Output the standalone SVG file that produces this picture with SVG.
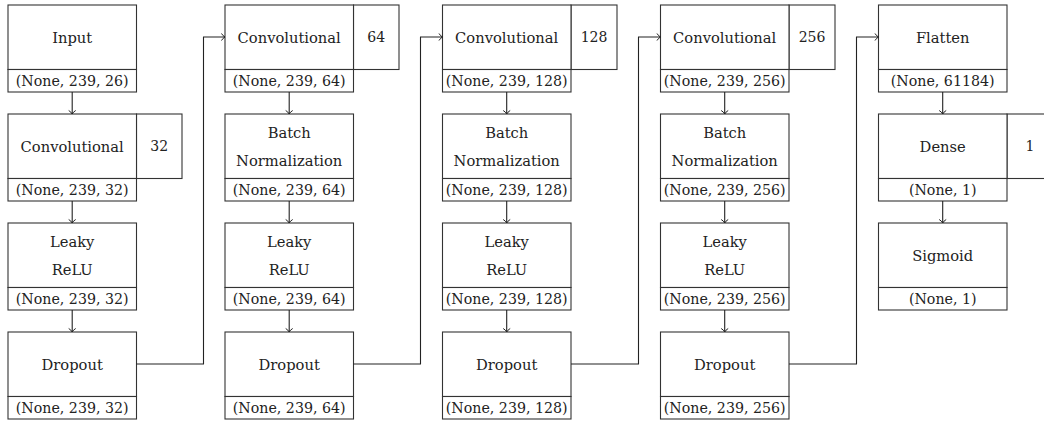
<svg xmlns="http://www.w3.org/2000/svg" width="1044" height="423" viewBox="0 0 1044 423">
  <style>
    .box { fill: #fff; stroke: #333; stroke-width: 1.1; }
    text { font-family: 'DejaVu Serif', 'Liberation Serif', serif; fill: #222; text-anchor: middle; dominant-baseline: central; }
    .lbl { font-size: 14.7px; }
    .shp { font-size: 14.2px; }
    .num { font-size: 14px; }
    .wire { fill: none; stroke: #222; stroke-width: 1.1; marker-end: url(#tip); }
  </style>
  <defs>
    <marker id="tip" markerUnits="userSpaceOnUse" markerWidth="10" markerHeight="10" refX="9" refY="5" orient="auto">
      <path d="M5.5 1.5 Q7 4 9 5 Q7 6 5.5 8.5" fill="none" stroke="#222" stroke-width="1"/>
    </marker>
  </defs>
  <rect width="1044" height="423" fill="#fff"/>

  <!-- column 1 -->
  <g id="input">
    <rect class="box" x="8" y="5" width="128.5" height="64.5"/>
    <rect class="box" x="8" y="69.5" width="128.5" height="22.5"/>
    <text class="lbl" x="72.2" y="37">Input</text>
    <text class="shp" x="72.2" y="80.5">(None, 239, 26)</text>
  </g>
  <g id="conv1">
    <rect class="box" x="136.5" y="114" width="45.5" height="64.5"/>
    <rect class="box" x="8" y="114" width="128.5" height="64.5"/>
    <rect class="box" x="8" y="178.5" width="128.5" height="22.5"/>
    <text class="lbl" x="72.2" y="146">Convolutional</text>
    <text class="num" x="159.2" y="146">32</text>
    <text class="shp" x="72.2" y="189.5">(None, 239, 32)</text>
  </g>
  <g id="relu1">
    <rect class="box" x="8" y="223" width="128.5" height="64.5"/>
    <rect class="box" x="8" y="287.5" width="128.5" height="22.5"/>
    <text class="lbl" x="72.2" y="241">Leaky</text>
    <text class="lbl" x="72.2" y="269">ReLU</text>
    <text class="shp" x="72.2" y="298.5">(None, 239, 32)</text>
  </g>
  <g id="drop1">
    <rect class="box" x="8" y="332" width="128.5" height="64.5"/>
    <rect class="box" x="8" y="396.5" width="128.5" height="22.5"/>
    <text class="lbl" x="72.2" y="364">Dropout</text>
    <text class="shp" x="72.2" y="407.5">(None, 239, 32)</text>
  </g>

  <!-- column 2 -->
  <g id="conv2">
    <rect class="box" x="353.5" y="5" width="45.5" height="64.5"/>
    <rect class="box" x="225" y="5" width="128.5" height="64.5"/>
    <rect class="box" x="225" y="69.5" width="128.5" height="22.5"/>
    <text class="lbl" x="289.2" y="37">Convolutional</text>
    <text class="num" x="376.2" y="37">64</text>
    <text class="shp" x="289.2" y="80.5">(None, 239, 64)</text>
  </g>
  <g id="bn2">
    <rect class="box" x="225" y="114" width="128.5" height="64.5"/>
    <rect class="box" x="225" y="178.5" width="128.5" height="22.5"/>
    <text class="lbl" x="289.2" y="132">Batch</text>
    <text class="lbl" x="289.2" y="160">Normalization</text>
    <text class="shp" x="289.2" y="189.5">(None, 239, 64)</text>
  </g>
  <g id="relu2">
    <rect class="box" x="225" y="223" width="128.5" height="64.5"/>
    <rect class="box" x="225" y="287.5" width="128.5" height="22.5"/>
    <text class="lbl" x="289.2" y="241">Leaky</text>
    <text class="lbl" x="289.2" y="269">ReLU</text>
    <text class="shp" x="289.2" y="298.5">(None, 239, 64)</text>
  </g>
  <g id="drop2">
    <rect class="box" x="225" y="332" width="128.5" height="64.5"/>
    <rect class="box" x="225" y="396.5" width="128.5" height="22.5"/>
    <text class="lbl" x="289.2" y="364">Dropout</text>
    <text class="shp" x="289.2" y="407.5">(None, 239, 64)</text>
  </g>

  <!-- column 3 -->
  <g id="conv3">
    <rect class="box" x="571" y="5" width="46" height="64.5"/>
    <rect class="box" x="442.5" y="5" width="128.5" height="64.5"/>
    <rect class="box" x="442.5" y="69.5" width="128.5" height="22.5"/>
    <text class="lbl" x="506.7" y="37">Convolutional</text>
    <text class="num" x="594" y="37">128</text>
    <text class="shp" x="506.7" y="80.5">(None, 239, 128)</text>
  </g>
  <g id="bn3">
    <rect class="box" x="442.5" y="114" width="128.5" height="64.5"/>
    <rect class="box" x="442.5" y="178.5" width="128.5" height="22.5"/>
    <text class="lbl" x="506.7" y="132">Batch</text>
    <text class="lbl" x="506.7" y="160">Normalization</text>
    <text class="shp" x="506.7" y="189.5">(None, 239, 128)</text>
  </g>
  <g id="relu3">
    <rect class="box" x="442.5" y="223" width="128.5" height="64.5"/>
    <rect class="box" x="442.5" y="287.5" width="128.5" height="22.5"/>
    <text class="lbl" x="506.7" y="241">Leaky</text>
    <text class="lbl" x="506.7" y="269">ReLU</text>
    <text class="shp" x="506.7" y="298.5">(None, 239, 128)</text>
  </g>
  <g id="drop3">
    <rect class="box" x="442.5" y="332" width="128.5" height="64.5"/>
    <rect class="box" x="442.5" y="396.5" width="128.5" height="22.5"/>
    <text class="lbl" x="506.7" y="364">Dropout</text>
    <text class="shp" x="506.7" y="407.5">(None, 239, 128)</text>
  </g>

  <!-- column 4 -->
  <g id="conv4">
    <rect class="box" x="789" y="5" width="46" height="64.5"/>
    <rect class="box" x="660.5" y="5" width="128.5" height="64.5"/>
    <rect class="box" x="660.5" y="69.5" width="128.5" height="22.5"/>
    <text class="lbl" x="724.7" y="37">Convolutional</text>
    <text class="num" x="812" y="37">256</text>
    <text class="shp" x="724.7" y="80.5">(None, 239, 256)</text>
  </g>
  <g id="bn4">
    <rect class="box" x="660.5" y="114" width="128.5" height="64.5"/>
    <rect class="box" x="660.5" y="178.5" width="128.5" height="22.5"/>
    <text class="lbl" x="724.7" y="132">Batch</text>
    <text class="lbl" x="724.7" y="160">Normalization</text>
    <text class="shp" x="724.7" y="189.5">(None, 239, 256)</text>
  </g>
  <g id="relu4">
    <rect class="box" x="660.5" y="223" width="128.5" height="64.5"/>
    <rect class="box" x="660.5" y="287.5" width="128.5" height="22.5"/>
    <text class="lbl" x="724.7" y="241">Leaky</text>
    <text class="lbl" x="724.7" y="269">ReLU</text>
    <text class="shp" x="724.7" y="298.5">(None, 239, 256)</text>
  </g>
  <g id="drop4">
    <rect class="box" x="660.5" y="332" width="128.5" height="64.5"/>
    <rect class="box" x="660.5" y="396.5" width="128.5" height="22.5"/>
    <text class="lbl" x="724.7" y="364">Dropout</text>
    <text class="shp" x="724.7" y="407.5">(None, 239, 256)</text>
  </g>

  <!-- column 5 -->
  <g id="flatten">
    <rect class="box" x="878.5" y="5" width="128.5" height="64.5"/>
    <rect class="box" x="878.5" y="69.5" width="128.5" height="22.5"/>
    <text class="lbl" x="942.7" y="37">Flatten</text>
    <text class="shp" x="942.7" y="80.5">(None, 61184)</text>
  </g>
  <g id="dense">
    <rect class="box" x="1007" y="114" width="46" height="64.5"/>
    <rect class="box" x="878.5" y="114" width="128.5" height="64.5"/>
    <rect class="box" x="878.5" y="178.5" width="128.5" height="22.5"/>
    <text class="lbl" x="942.7" y="146">Dense</text>
    <text class="num" x="1030" y="146">1</text>
    <text class="shp" x="942.7" y="189.5">(None, 1)</text>
  </g>
  <g id="sigmoid">
    <rect class="box" x="878.5" y="223" width="128.5" height="64.5"/>
    <rect class="box" x="878.5" y="287.5" width="128.5" height="22.5"/>
    <text class="lbl" x="942.7" y="255">Sigmoid</text>
    <text class="shp" x="942.7" y="298.5">(None, 1)</text>
  </g>

  <!-- connectors -->
  <g id="connectors">
    <path class="wire" d="M72.2 92 V114"/>
    <path class="wire" d="M72.2 201 V223"/>
    <path class="wire" d="M72.2 310 V332"/>
    <path class="wire" d="M136.5 364 H203.5 V37 H225"/>

    <path class="wire" d="M289.2 92 V114"/>
    <path class="wire" d="M289.2 201 V223"/>
    <path class="wire" d="M289.2 310 V332"/>
    <path class="wire" d="M353.5 364 H420.5 V37 H442.5"/>

    <path class="wire" d="M506.7 92 V114"/>
    <path class="wire" d="M506.7 201 V223"/>
    <path class="wire" d="M506.7 310 V332"/>
    <path class="wire" d="M571 364 H638.5 V37 H660.5"/>

    <path class="wire" d="M724.7 92 V114"/>
    <path class="wire" d="M724.7 201 V223"/>
    <path class="wire" d="M724.7 310 V332"/>
    <path class="wire" d="M789 364 H856.5 V37 H878.5"/>

    <path class="wire" d="M942.7 92 V114"/>
    <path class="wire" d="M942.7 201 V223"/>
  </g>
</svg>
